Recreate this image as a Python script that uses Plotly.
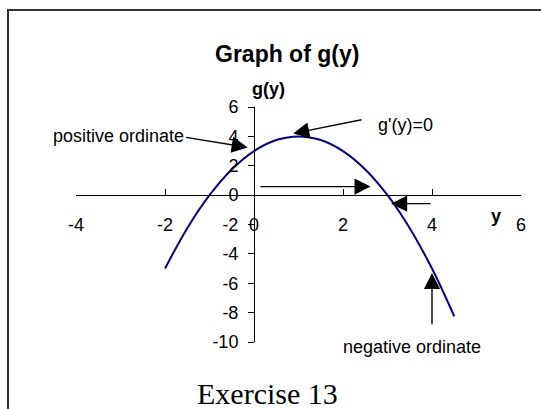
import plotly.graph_objects as go

# Sampled values of g(y)
y_vals = [-2, -1.5, -1, -0.5, 0, 0.5, 1, 1.5, 2, 2.5, 3, 3.5, 4, 4.5]
g_vals = [-5, -2.25, 0, 1.75, 3, 3.75, 4, 3.75, 3, 1.75, 0, -2.25, -5, -8.25]

x_ticks = [-4, -2, 0, 2, 4, 6]
y_ticks = [-10, -8, -6, -4, -2, 0, 2, 4, 6]

# Pointer arrows: (tail_x, tail_y, tip_x, tip_y) in data units
arrow_positive = (-1.56, 3.95, -0.14, 3.25)
arrow_stationary = (2.45, 5.15, 0.88, 4.2)
arrow_right = (0.11, 0.58, 2.62, 0.58)
arrow_left = (4.0, -0.58, 3.08, -0.58)
arrow_negative = (4.0, -8.9, 4.0, -5.3)

W, H = 541, 409
L, R, T, B = 76, 20, 107, 67
PW, PH = W - L - R, H - T - B

SANS = "Liberation Sans, Arial, sans-serif"
SERIF = "Liberation Serif, Times New Roman, serif"


def px(x):
    return (x - L) / PW


def py(y):
    return (H - B - y) / PH


fig = go.Figure()
fig.add_trace(go.Scatter(
    x=y_vals, y=g_vals, mode="lines",
    line=dict(color="#000080", width=2, shape="spline"),
    hoverinfo="skip", showlegend=False,
))

annotations = []
for tx, ty, hx, hy in [arrow_positive, arrow_stationary, arrow_right,
                       arrow_left, arrow_negative]:
    annotations.append(dict(
        x=hx, y=hy, ax=tx, ay=ty, xref="x", yref="y", axref="x", ayref="y",
        text="", font=dict(size=1), showarrow=True, arrowhead=2,
        arrowsize=2.3, arrowwidth=1.4, arrowcolor="black",
    ))


def label(text, x, y, size, bold=False, family=SANS):
    annotations.append(dict(
        text=f"<b>{text}</b>" if bold else text,
        x=px(x), y=py(y), xref="paper", yref="paper",
        xanchor="center", yanchor="middle", showarrow=False,
        font=dict(family=family, size=size, color="black"),
    ))


label("Graph of g(y)", 287, 54, 23, bold=True)
label("g(y)", 268, 89, 18, bold=True)
label("y", 496, 216, 18, bold=True)
label("positive ordinate", 118, 136, 18)
label("g'(y)=0", 405, 125, 18)
label("negative ordinate", 412, 347, 18)
label("Exercise 13", 267, 393, 30, family=SERIF)

fig.update_layout(
    width=W, height=H, autosize=False,
    margin=dict(l=L, r=R, t=T, b=B, pad=0),
    paper_bgcolor="white", plot_bgcolor="white",
    font=dict(family=SANS, size=18, color="black"),
    showlegend=False,
    annotations=annotations,
    shapes=[dict(
        type="rect", xref="paper", yref="paper", layer="above",
        x0=px(8), x1=px(W + 20), y0=py(H + 20), y1=py(10),
        line=dict(color="#333333", width=2), fillcolor="rgba(0,0,0,0)",
    )],
    xaxis=dict(
        range=[-4, 6], tickvals=x_ticks, ticktext=[str(v) for v in x_ticks],
        anchor="free", position=10 / 16,
        showline=True, linecolor="black", linewidth=1,
        ticks="inside", ticklen=6, tickcolor="black", tickwidth=1,
        ticklabelstandoff=13,
        showgrid=False, zeroline=False,
    ),
    yaxis=dict(
        range=[-10, 6], tickvals=y_ticks, ticktext=[str(v) for v in y_ticks],
        anchor="free", position=4 / 10,
        showline=True, linecolor="black", linewidth=1,
        ticks="outside", ticklen=6, tickcolor="black", tickwidth=1,
        ticklabelstandoff=6,
        showgrid=False, zeroline=False,
    ),
)

fig.write_html("out.html")
